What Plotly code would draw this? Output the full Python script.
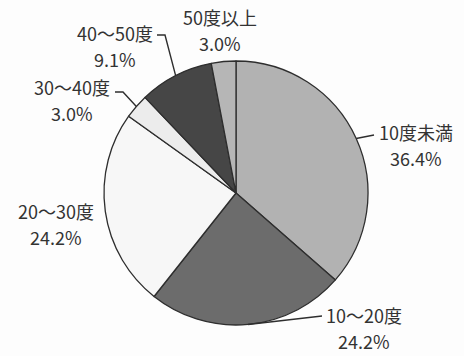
import math
import plotly.graph_objects as go

# Temperature band shares (%)
categories = ["10度未満", "10～20度", "20～30度", "30～40度", "40～50度", "50度以上"]
shares = [36.4, 24.2, 24.2, 3.0, 9.1, 3.0]

slice_colors = ["#b2b2b2", "#6c6c6c", "#f7f7f7", "#ececec", "#464646", "#b6b6b6"]

W, H = 464, 356
CX, CY, R = 236, 193, 132  # pie centre / radius in pixels

# label block centres (pixels) and optional leader-line elbow/end points
label_pos = {
    "10度未満": (416, 132),
    "10～20度": (364, 315),
    "20～30度": (56, 211),
    "30～40度": (72, 87),
    "40～50度": (115, 33),
    "50度以上": (220, 17),
}
leaders = {
    "10度未満": [(374, 135)],
    "10～20度": [(322, 316)],
    "30～40度": [(123, 92), (115, 92)],
    "40～50度": [(165, 35), (157, 35)],
}
LINE_GAP = 26


def px(x):
    return x / W


def py(y):
    return 1 - y / H


fig = go.Figure(
    go.Pie(
        labels=categories,
        values=shares,
        sort=False,
        direction="clockwise",
        rotation=0,
        marker=dict(colors=slice_colors, line=dict(color="#2e2e2e", width=1.3)),
        textinfo="none",
        hoverinfo="label+percent",
        showlegend=False,
        domain=dict(x=[px(CX - R), px(CX + R)], y=[py(CY + R), py(CY - R)]),
    )
)

font = dict(family="Noto Sans CJK JP, Noto Sans, sans-serif", size=18, color="#333333")
annotations = []
shapes = []
total = sum(shares)
cum = 0.0
for name, val in zip(categories, shares):
    mid = (cum + val / 2) / total * 2 * math.pi
    cum += val
    ax, ay = CX + R * math.sin(mid), CY - R * math.cos(mid)
    lx, ly = label_pos[name]
    annotations.append(dict(x=px(lx), y=py(ly), xref="paper", yref="paper",
                            text=name, showarrow=False, font=font,
                            xanchor="center", yanchor="middle"))
    annotations.append(dict(x=px(lx), y=py(ly + LINE_GAP), xref="paper", yref="paper",
                            text=f"{val:.1f}%", showarrow=False, font=font,
                            xanchor="center", yanchor="middle"))
    if name in leaders:
        pts = [(ax, ay)] + leaders[name]
        path = "M " + " L ".join(f"{px(x):.5f},{py(y):.5f}" for x, y in pts)
        shapes.append(dict(type="path", path=path, xref="paper", yref="paper",
                           line=dict(color="#2e2e2e", width=1.4)))

fig.update_layout(
    width=W, height=H,
    margin=dict(l=0, r=0, t=0, b=0),
    paper_bgcolor="#fdfdfd",
    plot_bgcolor="#fdfdfd",
    annotations=annotations,
    shapes=shapes,
)

fig.write_html("out.html")
